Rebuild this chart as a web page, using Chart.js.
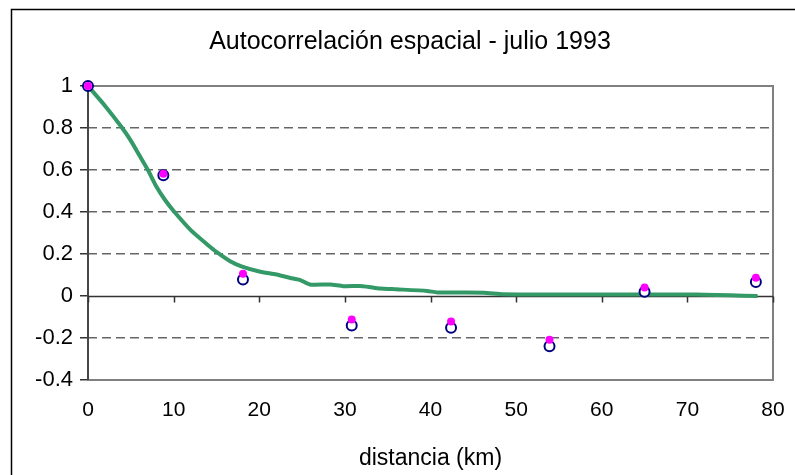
<!DOCTYPE html>
<html>
<head>
<meta charset="utf-8">
<script src="https://cdn.jsdelivr.net/npm/chart.js@4"></script>
<style>
  html, body { margin: 0; padding: 0; background: #fff; }
  #wrap { width: 795px; height: 475px; }
</style>
</head>
<body>
<div id="wrap"><canvas id="myChart" width="795" height="475"></canvas></div>
<script>
// distancias de los puntos observados (km)
var distPuntos = [0, 8.8, 18.1, 30.8, 42.4, 53.9, 65.0, 78.0];
// autocorrelación (círculos azules)
var corrAzul = [1, 0.575, 0.079, -0.141, -0.151, -0.239, 0.020, 0.067];
// autocorrelación (puntos magenta)
var corrMagenta = [1, 0.582, 0.106, -0.112, -0.122, -0.208, 0.041, 0.087];

// curva ajustada (verde)
var distCurva = [0, 2, 4, 5, 6, 7, 8, 9, 10, 12, 14, 15, 16.6, 18, 20, 22, 24, 24.8, 25.9, 28.3, 29.8, 32.1, 34.1, 36, 39.6, 40.8, 46.2, 48.5, 55, 60, 65, 70, 72, 75, 78.2];
var corrCurva = [1, 0.905, 0.8, 0.74, 0.67, 0.6, 0.52, 0.457, 0.405, 0.314, 0.243, 0.21, 0.166, 0.14, 0.117, 0.102, 0.083, 0.076, 0.055, 0.055, 0.047, 0.047, 0.036, 0.032, 0.024, 0.017, 0.016, 0.008, 0.007, 0.007, 0.007, 0.007, 0.006, 0.003, 0];

var yTicks = [1, 0.8, 0.6, 0.4, 0.2, 0, -0.2, -0.4];
var xTicks = [0, 10, 20, 30, 40, 50, 60, 70, 80];

function toXY(xs, ys) {
  var out = [];
  for (var i = 0; i < xs.length; i++) out.push({ x: xs[i], y: ys[i] });
  return out;
}

// marco exterior, borde del área y eje x en cero
var marcoPlugin = {
  id: 'marco',
  afterLayout: function (chart) {
    // el título va centrado en el marco exterior, no en el lienzo
    if (chart.titleBlock) {
      chart.titleBlock.left = 25;
      chart.titleBlock.right = 795;
    }
  },
  beforeDraw: function (chart) {
    var ctx = chart.ctx;
    ctx.save();
    ctx.strokeStyle = '#000';
    ctx.lineWidth = 1.5;
    ctx.beginPath();
    ctx.moveTo(11.5, 480);
    ctx.lineTo(11.5, 9.5);
    ctx.lineTo(800, 9.5);
    ctx.stroke();
    ctx.restore();
  },
  beforeDatasetsDraw: function (chart) {
    var ctx = chart.ctx, a = chart.chartArea;
    var xs = chart.scales.x, ys = chart.scales.y;
    ctx.save();
    ctx.strokeStyle = '#808080';
    ctx.lineWidth = 2;
    ctx.strokeRect(a.left, a.top, a.right - a.left, a.bottom - a.top);
    ctx.strokeStyle = '#333';
    ctx.lineWidth = 1.5;
    ctx.beginPath();
    ctx.moveTo(a.left, a.top);
    ctx.lineTo(a.left, a.bottom);
    var y0 = Math.round(ys.getPixelForValue(0)) + 0.5;
    ctx.moveTo(a.left, y0);
    ctx.lineTo(a.right, y0);
    for (var i = 0; i < xTicks.length; i++) {
      var px = Math.round(xs.getPixelForValue(xTicks[i])) + 0.5;
      ctx.moveTo(px, y0);
      ctx.lineTo(px, y0 + 6);
    }
    ctx.stroke();
    ctx.restore();
  }
};

var ctx = document.getElementById('myChart');
var myChart = new Chart(ctx, {
  type: 'scatter',
  data: {
    datasets: [
      {
        label: 'magenta',
        data: toXY(distPuntos, corrMagenta),
        backgroundColor: '#ff00ff',
        borderWidth: 0,
        pointRadius: 4,
        pointHoverRadius: 4,
        clip: false
      },
      {
        label: 'azul',
        data: toXY(distPuntos, corrAzul),
        backgroundColor: '#ffffff',
        borderColor: '#000080',
        borderWidth: 2,
        pointRadius: 5,
        pointHoverRadius: 5,
        clip: false
      },
      {
        label: 'curva',
        data: toXY(distCurva, corrCurva),
        showLine: true,
        borderColor: '#339966',
        borderWidth: 4,
        pointRadius: 0,
        tension: 0.2,
        fill: false
      }
    ]
  },
  options: {
    responsive: false,
    animation: false,
    events: [],
    layout: { padding: { left: 0, right: 22, top: 0, bottom: 0 } },
    plugins: {
      legend: { display: false },
      tooltip: { enabled: false },
      title: {
        display: true,
        text: 'Autocorrelación espacial - julio 1993',
        color: '#000',
        font: { family: 'Liberation Sans', size: 25, weight: 'normal' },
        padding: { top: 27, bottom: 29 }
      }
    },
    scales: {
      x: {
        type: 'linear',
        min: 0,
        max: 80,
        afterBuildTicks: function (s) { s.ticks = xTicks.map(function (v) { return { value: v }; }); },
        afterFit: function (s) { s.height = 95; },
        grid: {
          display: true,
          drawOnChartArea: false,
          drawTicks: true,
          tickLength: 15,
          tickColor: 'rgba(0,0,0,0)'
        },
        border: { display: false },
        ticks: {
          color: '#000',
          padding: 3,
          maxRotation: 0,
          font: { family: 'Liberation Sans', size: 21 }
        },
        title: {
          display: true,
          text: 'distancia (km)',
          color: '#000',
          font: { family: 'Liberation Sans', size: 23 },
          padding: { top: 0, bottom: 3 }
        }
      },
      y: {
        type: 'linear',
        min: -0.4,
        max: 1,
        afterBuildTicks: function (s) { s.ticks = yTicks.map(function (v) { return { value: v }; }); },
        afterFit: function (s) { s.width = 88; },
        grid: {
          color: function (c) {
            var v = c.tick ? c.tick.value : null;
            if (v === 1 || v === 0 || v === -0.4) return 'rgba(0,0,0,0)';
            return '#666';
          },
          lineWidth: 1.5,
          drawTicks: true,
          tickLength: 8,
          tickColor: '#333',
          tickWidth: 1.5
        },
        border: { display: false, dash: [9, 5] },
        ticks: {
          color: '#000',
          padding: 7,
          font: { family: 'Liberation Sans', size: 22 },
          callback: function (v) { return String(Math.round(v * 10) / 10); }
        }
      }
    }
  },
  plugins: [marcoPlugin]
});
</script>
</body>
</html>
